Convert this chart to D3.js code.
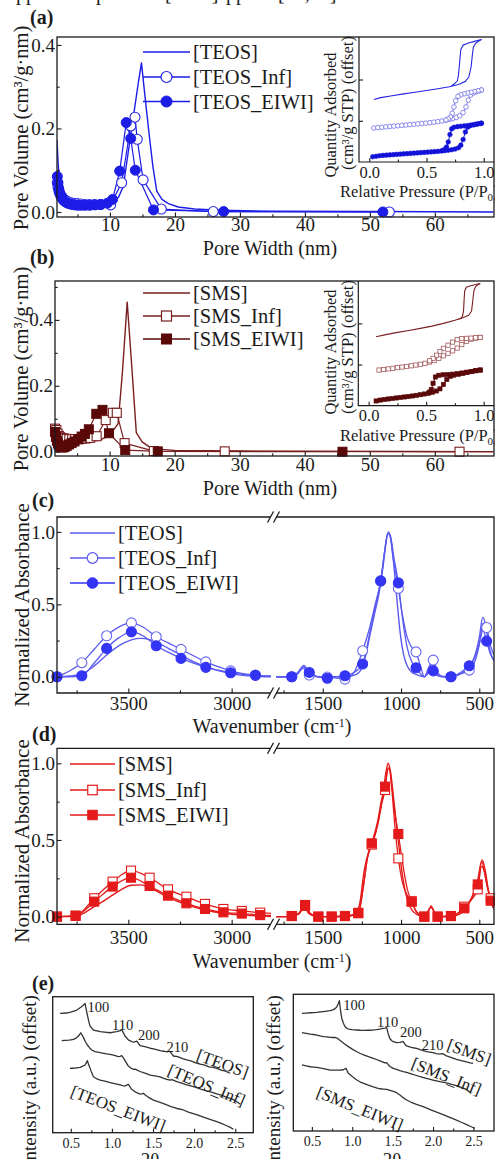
<!DOCTYPE html>
<html>
<head>
<meta charset="utf-8">
<script src="https://cdn.jsdelivr.net/npm/d3@7"></script>
<style>
  body { margin: 0; background: #fff; }
  svg { display: block; }
  text { font-family: "Liberation Serif", "Times New Roman", serif; fill: #1b1b1b; }
</style>
</head>
<body>
<svg id="fig" width="495" height="1159"></svg>
<script>
// ---------------- (a), (b) pore size distributions: [width nm, volume] ----------------
const psdTeos = [[1.85,0.172],[1.95,0.14],[2.05,0.11],[2.2,0.085],[2.4,0.066],[2.6,0.054],[2.9,0.044],[3.3,0.036],[3.8,0.03],[4.4,0.026],[5.2,0.023],[6.2,0.021],[7.3,0.02],[8.5,0.02],[9.6,0.021],[10.5,0.024],[11.3,0.035],[12.05,0.061],[13.2,0.185],[14.35,0.308],[14.85,0.357],[15.3,0.29],[16.0,0.19],[16.6,0.11],[17.2,0.05],[18,0.03],[19,0.02],[20.5,0.012],[23,0.007],[27,0.004],[35,0.002],[50,0.001],[69,0.0]];
const psdTeosInf = [[1.9,0.07],[2.0,0.06],[2.15,0.05],[2.3,0.044],[2.5,0.038],[2.7,0.034],[2.95,0.03],[3.25,0.027],[3.6,0.024],[4.0,0.022],[4.45,0.021],[4.95,0.02],[5.5,0.019],[6.1,0.018],[6.8,0.018],[7.6,0.018],[8.5,0.018],[10.1,0.017],[11.8,0.07],[13.2,0.206],[13.85,0.227],[14.2,0.174],[15.1,0.077],[17.9,0.007],[25.9,0.001],[53,0.0]];
const psdTeosEiwi = [[1.9,0.085],[2.0,0.07],[2.12,0.056],[2.25,0.046],[2.4,0.04],[2.6,0.034],[2.8,0.029],[3.05,0.025],[3.35,0.022],[3.7,0.02],[4.1,0.018],[4.55,0.017],[5.05,0.016],[5.6,0.016],[6.2,0.016],[6.9,0.016],[7.7,0.017],[8.6,0.018],[9.6,0.021],[10.4,0.03],[11.5,0.098],[12.5,0.214],[13.2,0.176],[13.9,0.1],[16.7,0.005],[27.5,0.001],[52,0.0]];
const psdSms = [[1.6,0.01],[1.9,0.01],[2.3,0.012],[2.8,0.015],[3.5,0.019],[4.5,0.024],[5.5,0.028],[6.5,0.031],[7.5,0.033],[8.5,0.035],[9.5,0.045],[10.4,0.06],[11.3,0.085],[12.0,0.25],[12.7,0.454],[13.4,0.26],[14.1,0.058],[15,0.03],[16,0.016],[17.5,0.008],[20,0.004],[30,0.002],[69,0.0]];
const psdSmsInf = [[1.6,0.07],[1.8,0.066],[2.0,0.055],[2.2,0.048],[2.4,0.044],[2.7,0.041],[3.0,0.04],[3.4,0.039],[3.8,0.038],[4.25,0.038],[4.7,0.038],[5.2,0.038],[5.7,0.039],[6.3,0.04],[7.0,0.042],[8.0,0.047],[9.4,0.096],[10.5,0.118],[11.1,0.118],[12.3,0.026],[16.8,0.002],[27.7,0.001],[63.8,0.0]];
const psdSmsEiwi = [[1.6,0.06],[1.75,0.045],[1.9,0.033],[2.05,0.025],[2.2,0.019],[2.4,0.015],[2.6,0.013],[2.85,0.013],[3.1,0.015],[3.4,0.018],[3.75,0.022],[4.15,0.026],[4.6,0.031],[5.2,0.038],[5.7,0.046],[6.2,0.054],[6.8,0.068],[7.95,0.115],[8.9,0.127],[9.9,0.056],[12.4,0.005],[17.4,0.001],[45.8,0.0]];
const namesTeos = ["[TEOS]", "[TEOS_Inf]", "[TEOS_EIWI]"];
const namesSms = ["[SMS]", "[SMS_Inf]", "[SMS_EIWI]"];
const pwTicks = [10, 20, 30, 40, 50, 60];
const pwMinor = [5, 15, 25, 35, 45, 55, 65];
const pvTicks = [0, 0.2, 0.4];
const pvMinorA = [0.1, 0.3];
const pvMinorB = [0.1, 0.3, 0.5];

// ---------------- N2 isotherms (insets): [P/P0, quantity, offset units] ----------------
const isoTeosAds = [[0.04,5.0],[0.1,5.15],[0.2,5.3],[0.3,5.45],[0.4,5.58],[0.5,5.72],[0.6,5.86],[0.7,6.02],[0.78,6.2],[0.84,6.45],[0.87,6.8],[0.89,7.6],[0.9,8.5],[0.91,9.2],[0.93,9.5],[0.96,9.7],[0.98,9.8]];
const isoTeosDes = [[0.98,9.8],[0.92,9.65],[0.86,9.5],[0.82,9.35],[0.8,9.0],[0.79,8.0],[0.78,7.0],[0.77,6.5],[0.75,6.3],[0.72,6.1]];
const isoTeosInfAds = [[0.04,2.72],[0.075,2.75],[0.11,2.78],[0.145,2.81],[0.18,2.84],[0.215,2.87],[0.25,2.9],[0.285,2.93],[0.32,2.96],[0.355,2.99],[0.39,3.02],[0.425,3.05],[0.46,3.08],[0.495,3.11],[0.53,3.15],[0.565,3.19],[0.6,3.23],[0.635,3.28],[0.67,3.34],[0.7,3.4],[0.73,3.47],[0.76,3.56],[0.79,3.7],[0.82,3.95],[0.845,4.4],[0.865,4.95],[0.885,5.35],[0.91,5.52],[0.935,5.62],[0.96,5.7],[0.98,5.76]];
const isoTeosInfDes = [[0.98,5.76],[0.95,5.7],[0.92,5.64],[0.89,5.58],[0.86,5.52],[0.83,5.46],[0.8,5.38],[0.775,5.25],[0.755,4.9],[0.74,4.4],[0.725,3.9],[0.71,3.6],[0.69,3.45],[0.67,3.36]];
const isoTeosEiwiAds = [[0.03,0.42],[0.06,0.46],[0.09,0.5],[0.12,0.53],[0.15,0.55],[0.18,0.57],[0.21,0.59],[0.24,0.61],[0.27,0.63],[0.3,0.65],[0.33,0.67],[0.36,0.69],[0.39,0.71],[0.42,0.73],[0.45,0.75],[0.48,0.77],[0.51,0.79],[0.54,0.81],[0.57,0.83],[0.6,0.85],[0.63,0.88],[0.66,0.91],[0.69,0.94],[0.72,0.98],[0.75,1.04],[0.78,1.14],[0.8,1.35],[0.82,1.8],[0.84,2.4],[0.86,2.78],[0.88,2.9],[0.91,2.97],[0.94,3.03],[0.97,3.08],[0.98,3.1]];
const isoTeosEiwiDes = [[0.98,3.1],[0.95,3.05],[0.92,3.0],[0.89,2.96],[0.86,2.92],[0.83,2.89],[0.8,2.86],[0.77,2.83],[0.74,2.78],[0.72,2.65],[0.705,2.2],[0.69,1.6],[0.675,1.2],[0.66,1.02],[0.64,0.92]];
const isoSmsAds = [[0.065,5.53],[0.15,5.7],[0.25,5.88],[0.35,6.03],[0.45,6.2],[0.55,6.38],[0.65,6.6],[0.75,6.85],[0.82,7.05],[0.87,7.25],[0.895,7.6],[0.905,8.4],[0.915,9.2],[0.93,9.55],[0.95,9.7],[0.97,9.8]];
const isoSmsDes = [[0.97,9.8],[0.92,9.7],[0.88,9.6],[0.85,9.5],[0.835,9.2],[0.83,8.5],[0.825,7.6],[0.815,7.15],[0.8,7.0],[0.78,6.95]];
const isoSmsInfAds = [[0.09,2.86],[0.13,2.9],[0.17,2.95],[0.21,3.0],[0.25,3.05],[0.29,3.1],[0.33,3.15],[0.37,3.2],[0.41,3.26],[0.45,3.32],[0.49,3.4],[0.53,3.5],[0.57,3.62],[0.61,3.8],[0.65,4.0],[0.69,4.2],[0.73,4.4],[0.77,4.62],[0.81,4.9],[0.85,5.15],[0.89,5.33],[0.93,5.42],[0.97,5.48]];
const isoSmsInfDes = [[0.97,5.48],[0.93,5.45],[0.89,5.42],[0.85,5.4],[0.81,5.38],[0.77,5.3],[0.73,5.1],[0.69,4.85],[0.65,4.6],[0.62,4.35],[0.59,4.05],[0.56,3.8],[0.53,3.6]];
const isoSmsEiwiAds = [[0.065,0.38],[0.1,0.45],[0.135,0.5],[0.17,0.54],[0.205,0.58],[0.24,0.62],[0.275,0.66],[0.31,0.7],[0.345,0.74],[0.38,0.78],[0.415,0.83],[0.45,0.88],[0.485,0.94],[0.52,1.0],[0.555,1.08],[0.59,1.18],[0.62,1.35],[0.65,1.7],[0.68,2.1],[0.71,2.35],[0.74,2.45],[0.78,2.52],[0.82,2.6],[0.86,2.68],[0.9,2.75],[0.935,2.81],[0.97,2.86]];
const isoSmsEiwiDes = [[0.97,2.86],[0.93,2.8],[0.89,2.74],[0.85,2.68],[0.81,2.62],[0.77,2.57],[0.73,2.53],[0.69,2.5],[0.65,2.48],[0.61,2.44],[0.58,2.3],[0.56,1.8],[0.545,1.3],[0.53,1.1]];
const rpTicks = [0, 0.5, 1.0];
const rpMinor = [0.25, 0.75];
const qaTicks = [3.3, 6.6];

// ---------------- (c), (d) FTIR: [wavenumber cm-1, normalized absorbance] ----------------
const ftirTeos = [[3845,0.0],[3785,0.005],[3725,0.02],[3665,0.075],[3605,0.15],[3545,0.215],[3485,0.255],[3440,0.265],[3400,0.258],[3365,0.24],[3305,0.195],[3245,0.15],[3185,0.105],[3125,0.07],[3065,0.042],[3005,0.022],[2945,0.01],[2885,0.004],[2810,0.0],
  [1805,0.0],[1750,0.0],[1698,0.003],[1660,0.025],[1620,0.078],[1590,0.03],[1550,0.003],[1471,0.0],[1400,0.0],[1330,0.004],[1280,0.02],[1250,0.06],[1225,0.15],[1200,0.28],[1170,0.43],[1140,0.58],[1115,0.76],[1095,0.93],[1080,1.0],[1065,0.95],[1045,0.76],[1025,0.52],[1005,0.3],[985,0.16],[960,0.075],[930,0.03],[900,0.015],[870,0.004],[851,0.0],[825,0.04],[800,0.09],[780,0.04],[755,0.005],[720,0.0],[681,0.0],[640,0.01],[600,0.035],[564,0.07],[530,0.14],[500,0.27],[478,0.41],[460,0.36],[440,0.22],[420,0.14],[406,0.11]];
const ftirTeosInf = [[3845,0.0],[3785,0.04],[3725,0.097],[3665,0.19],[3605,0.283],[3545,0.345],[3485,0.372],[3425,0.34],[3365,0.276],[3305,0.232],[3245,0.189],[3185,0.145],[3125,0.103],[3065,0.07],[3005,0.041],[2945,0.022],[2885,0.012],[2810,0.005],
  [1805,0.0],[1750,0.0],[1698,0.0],[1660,0.02],[1625,0.06],[1586,0.012],[1530,0.0],[1471,-0.002],[1420,-0.008],[1358,-0.016],[1300,0.03],[1245,0.18],[1200,0.34],[1165,0.5],[1130,0.66],[1105,0.86],[1085,0.99],[1070,0.97],[1050,0.82],[1017,0.61],[990,0.42],[960,0.27],[930,0.2],[904,0.172],[875,0.07],[851,0.0],[825,0.06],[794,0.115],[770,0.04],[740,0.005],[681,0.0],[620,0.02],[564,0.046],[530,0.1],[500,0.22],[476,0.37],[453,0.34],[430,0.22],[406,0.15]];
const ftirTeosEiwi = [[3845,0.0],[3785,0.0],[3725,0.007],[3665,0.095],[3605,0.196],[3545,0.27],[3485,0.31],[3425,0.28],[3365,0.214],[3305,0.168],[3245,0.127],[3185,0.094],[3125,0.065],[3065,0.045],[3005,0.028],[2945,0.017],[2885,0.01],[2810,0.004],
  [1805,0.0],[1750,0.0],[1698,0.0],[1660,0.03],[1625,0.07],[1586,0.03],[1530,0.0],[1471,-0.01],[1420,0.0],[1358,0.007],[1300,0.03],[1245,0.088],[1200,0.3],[1165,0.48],[1130,0.662],[1105,0.86],[1085,0.99],[1070,0.98],[1045,0.82],[1017,0.648],[990,0.4],[960,0.2],[930,0.1],[904,0.062],[875,0.02],[851,0.0],[820,0.03],[794,0.041],[770,0.01],[730,0.0],[681,0.0],[620,0.03],[564,0.076],[530,0.13],[500,0.23],[476,0.32],[453,0.246],[430,0.16],[406,0.12]];
const ftirMarksC = [3845,3725,3605,3485,3365,3245,3125,3005,2885,1698,1586,1471,1358,1245,1130,1017,904,794,681,564,453];

const ftirSms = [[3845,0.0],[3755,0.002],[3665,0.065],[3576,0.14],[3530,0.18],[3487,0.205],[3440,0.207],[3397,0.19],[3308,0.125],[3219,0.078],[3129,0.043],[3040,0.022],[2951,0.01],[2862,0.005],[2800,0.0],
  [1805,0.0],[1750,0.0],[1698,0.002],[1650,0.02],[1620,0.07],[1590,0.02],[1540,0.0],[1443,0.0],[1358,0.0],[1300,0.01],[1265,0.08],[1235,0.3],[1205,0.43],[1175,0.5],[1145,0.62],[1115,0.8],[1095,0.95],[1082,1.0],[1068,0.95],[1045,0.75],[1020,0.52],[995,0.3],[970,0.15],[940,0.06],[900,0.015],[851,0.0],[830,0.02],[808,0.07],[785,0.02],[766,0.0],[681,0.0],[630,0.015],[596,0.04],[550,0.12],[510,0.24],[482,0.37],[462,0.3],[440,0.16],[420,0.08],[406,0.05]];
const ftirSmsInf = [[3845,0.0],[3755,0.005],[3665,0.12],[3576,0.228],[3487,0.3],[3397,0.254],[3308,0.178],[3219,0.13],[3129,0.083],[3040,0.05],[2951,0.037],[2862,0.026],[2800,0.02],
  [1805,0.0],[1750,0.0],[1698,0.004],[1650,0.02],[1613,0.07],[1580,0.02],[1528,0.0],[1443,0.0],[1358,0.004],[1273,0.025],[1240,0.2],[1215,0.38],[1187,0.47],[1150,0.6],[1125,0.73],[1102,0.826],[1085,0.96],[1075,0.97],[1060,0.85],[1040,0.6],[1017,0.38],[990,0.22],[960,0.14],[932,0.1],[900,0.03],[851,0.0],[808,0.06],[766,0.0],[681,0.004],[640,0.02],[596,0.065],[550,0.11],[510,0.178],[485,0.33],[470,0.3],[450,0.2],[427,0.12],[406,0.06]];
const ftirSmsEiwi = [[3845,0.0],[3755,0.0065],[3665,0.098],[3576,0.196],[3487,0.254],[3397,0.2],[3308,0.137],[3219,0.087],[3129,0.05],[3040,0.028],[2951,0.02],[2862,0.01],[2800,0.008],
  [1805,0.0],[1750,0.0],[1698,0.004],[1650,0.025],[1613,0.076],[1580,0.02],[1528,0.0],[1443,0.0],[1358,0.004],[1273,0.022],[1240,0.2],[1215,0.38],[1187,0.478],[1150,0.62],[1125,0.76],[1102,0.848],[1085,0.96],[1075,0.97],[1060,0.86],[1040,0.68],[1017,0.539],[990,0.35],[960,0.18],[932,0.098],[900,0.03],[851,0.0],[808,0.06],[766,0.0],[681,0.004],[640,0.02],[596,0.054],[550,0.12],[510,0.21],[485,0.36],[468,0.3],[450,0.2],[427,0.104],[406,0.05]];
const ftirMarksD = [3845,3755,3665,3576,3487,3397,3308,3219,3129,3040,2951,2862,1698,1613,1528,1443,1358,1273,1187,1102,1017,932,851,766,681,596,510,427];

const wnTicksL = [3500, 3000];
const wnMinorL = [3750, 3250];
const wnTicksR = [1500, 1000, 500];
const wnMinorR = [1750, 1250, 750];
const absTicks = [0, 0.5, 1.0];
const absMinor = [0.25, 0.75];

// ---------------- (e) low-angle XRD: [2theta, intensity a.u. with offset] ----------------
const xrdTeos = [[0.37,87.8],[0.45,88.0],[0.51,88.8],[0.573,90.2],[0.622,92.2],[0.653,93.7],[0.674,95.1],[0.688,90.5],[0.702,86.5],[0.72,81.5],[0.735,78.4],[0.775,75.5],[0.82,74.9],[0.857,74.3],[0.91,74.0],[0.978,73.5],[1.02,73.9],[1.06,74.3],[1.09,74.8],[1.12,75.5],[1.14,73.4],[1.16,71.1],[1.2,68.2],[1.23,67.3],[1.262,66.5],[1.285,67.0],[1.303,67.4],[1.323,65.6],[1.343,64.0],[1.4,63.3],[1.465,62.1],[1.52,61.5],[1.586,60.3],[1.63,59.9],[1.668,59.4],[1.69,59.9],[1.708,59.6],[1.728,57.9],[1.748,56.4],[1.8,55.9],[1.86,54.4],[1.911,53.5],[1.96,52.8],[2.02,51.3],[2.073,50.5],[2.13,49.7],[2.18,48.4],[2.23,48.0],[2.276,47.3],[2.33,46.0],[2.38,45.2],[2.438,43.7]];
const xrdTeosInf = [[0.39,67.7],[0.43,67.9],[0.47,68.0],[0.5,68.2],[0.532,68.6],[0.565,69.6],[0.593,71.1],[0.61,72.4],[0.622,73.5],[0.636,72.0],[0.653,70.1],[0.675,67.2],[0.702,64.5],[0.73,62.3],[0.755,60.8],[0.796,59.6],[0.857,58.8],[0.9,58.3],[0.938,57.9],[0.98,57.6],[1.018,57.1],[1.05,56.5],[1.079,55.9],[1.1,56.2],[1.12,56.6],[1.14,55.0],[1.16,53.0],[1.18,51.0],[1.2,49.0],[1.23,47.6],[1.262,46.6],[1.283,46.7],[1.303,46.2],[1.343,45.0],[1.383,44.1],[1.42,43.5],[1.465,42.4],[1.52,41.8],[1.586,41.0],[1.63,40.0],[1.668,39.2],[1.708,38.6],[1.73,39.0],[1.79,37.5],[1.85,36.4],[1.911,35.1],[1.97,34.3],[2.03,33.2],[2.09,31.9],[2.154,30.7],[2.21,29.8],[2.276,28.5],[2.34,27.4],[2.398,26.0],[2.44,25.3],[2.478,24.3],[2.52,22.8],[2.56,21.1]];
const xrdTeosEiwi = [[0.49,47.3],[0.52,47.4],[0.553,47.5],[0.585,47.8],[0.613,48.1],[0.645,48.9],[0.674,49.8],[0.69,51.5],[0.702,53.0],[0.715,50.5],[0.735,47.3],[0.755,44.0],[0.775,41.2],[0.81,39.8],[0.857,38.7],[0.9,38.1],[0.938,37.5],[0.978,36.9],[1.018,36.3],[1.06,35.7],[1.1,35.1],[1.13,34.6],[1.16,34.3],[1.18,35.0],[1.2,35.5],[1.22,33.8],[1.24,31.9],[1.27,30.6],[1.303,29.4],[1.343,28.4],[1.363,28.6],[1.383,29.0],[1.41,27.6],[1.445,26.0],[1.506,24.0],[1.56,22.8],[1.62,21.6],[1.668,20.4],[1.72,19.2],[1.79,17.8],[1.87,16.7],[1.93,15.2],[2.0,13.9],[2.073,12.3],[2.14,10.9],[2.21,9.5],[2.276,8.1],[2.33,6.8],[2.39,5.3],[2.44,3.9],[2.478,2.5]];
const xrdSms = [[0.377,86.1],[0.43,86.3],[0.48,86.5],[0.52,86.6],[0.562,86.8],[0.6,87.1],[0.643,87.4],[0.685,87.7],[0.726,88.0],[0.76,88.6],[0.788,89.5],[0.809,90.9],[0.83,93.5],[0.841,95.3],[0.855,88.0],[0.87,82.5],[0.89,78.8],[0.911,76.3],[0.93,75.2],[0.952,74.6],[1.0,74.2],[1.056,73.9],[1.1,73.7],[1.15,73.6],[1.2,73.7],[1.261,73.9],[1.3,74.2],[1.343,74.6],[1.38,75.0],[1.405,75.3],[1.426,75.6],[1.446,71.0],[1.467,67.5],[1.49,66.0],[1.508,65.3],[1.549,64.6],[1.59,64.8],[1.631,65.3],[1.652,63.5],[1.673,62.2],[1.71,61.6],[1.75,60.9],[1.796,60.5],[1.84,59.5],[1.878,58.8],[1.92,58.0],[1.96,57.7],[2.0,57.3],[2.04,56.6],[2.084,56.3],[2.12,56.6],[2.167,54.9],[2.22,53.9],[2.29,52.4],[2.35,51.5],[2.414,50.5],[2.46,49.9],[2.495,49.5]];
const xrdSmsInf = [[0.377,71.9],[0.43,71.4],[0.48,70.9],[0.52,70.6],[0.562,70.2],[0.6,69.6],[0.643,69.0],[0.685,68.8],[0.726,68.5],[0.76,68.4],[0.788,68.5],[0.809,68.0],[0.84,66.8],[0.87,65.3],[0.91,63.4],[0.952,61.7],[1.0,59.9],[1.056,58.0],[1.1,56.7],[1.15,55.5],[1.2,54.4],[1.261,53.2],[1.3,52.3],[1.343,51.3],[1.38,50.4],[1.405,49.8],[1.426,50.0],[1.446,48.5],[1.467,47.2],[1.508,45.8],[1.549,45.0],[1.59,44.2],[1.631,43.5],[1.673,42.9],[1.73,41.8],[1.796,40.6],[1.86,39.5],[1.92,38.5],[2.0,37.3],[2.084,36.1],[2.167,35.2],[2.23,34.1],[2.29,33.2],[2.35,31.9],[2.414,30.5],[2.45,28.6],[2.47,27.3]];
const xrdSmsEiwi = [[0.377,48.3],[0.43,47.6],[0.48,47.0],[0.52,46.8],[0.562,46.6],[0.6,46.1],[0.643,45.6],[0.685,45.1],[0.726,44.6],[0.77,44.6],[0.809,44.6],[0.85,44.6],[0.89,44.8],[0.91,45.5],[0.923,45.8],[0.937,44.0],[0.952,42.2],[1.0,39.8],[1.056,37.3],[1.1,35.8],[1.15,34.6],[1.2,33.5],[1.261,32.3],[1.3,31.6],[1.343,30.9],[1.385,30.7],[1.426,30.5],[1.467,29.8],[1.508,29.0],[1.549,28.0],[1.59,26.3],[1.63,24.4],[1.673,22.7],[1.73,21.0],[1.796,19.5],[1.84,18.6],[1.878,17.8],[1.93,16.6],[1.98,15.3],[2.03,14.1],[2.084,12.9],[2.14,11.6],[2.19,10.4],[2.24,9.2],[2.29,8.0],[2.35,6.4],[2.41,4.9],[2.46,3.5],[2.516,2.0]];
const hklLabels = ["100", "110", "200", "210"];
const tthTicks = [0.5, 1.0, 1.5, 2.0, 2.5];
const tthMinor = [0.75, 1.25, 1.75, 2.25];

// ---------------- drawing helpers ----------------
const INK = "#1b1b1b";
const svg = d3.select("#fig");
svg.append("rect").attr("width", 495).attr("height", 1159).attr("fill", "#fff");
const defs = svg.append("defs");
function clip(id, x, y, w, h) {
  defs.append("clipPath").attr("id", id).append("rect")
    .attr("x", x).attr("y", y).attr("width", w).attr("height", h);
  return `url(#${id})`;
}
function styleAxis(a, fs) {
  a.select(".domain").remove();
  a.attr("font-family", null).attr("font-size", null).attr("color", INK);
  a.selectAll("line").attr("stroke-width", 1.1);
  a.selectAll("text").attr("font-size", fs);
}
function axisBottom(scale, y, major, minor, fmt, pad, fs, len = 4.5) {
  const a = svg.append("g").attr("transform", `translate(0,${y})`)
    .call(d3.axisBottom(scale).tickValues(major).tickSize(-len).tickPadding(pad).tickFormat(fmt));
  styleAxis(a, fs);
  if (minor && minor.length) {
    const m = svg.append("g").attr("transform", `translate(0,${y})`)
      .call(d3.axisBottom(scale).tickValues(minor).tickSize(-len * 0.6).tickFormat(() => ""));
    styleAxis(m, fs);
  }
}
function axisLeft(scale, x, major, minor, fmt, pad, fs, len = 4.5) {
  const a = svg.append("g").attr("transform", `translate(${x},0)`)
    .call(d3.axisLeft(scale).tickValues(major).tickSize(-len).tickPadding(pad).tickFormat(fmt));
  styleAxis(a, fs);
  if (minor && minor.length) {
    const m = svg.append("g").attr("transform", `translate(${x},0)`)
      .call(d3.axisLeft(scale).tickValues(minor).tickSize(-len * 0.6).tickFormat(() => ""));
    styleAxis(m, fs);
  }
}
function frame(x0, y0, x1, y1) {
  svg.append("rect").attr("x", x0).attr("y", y0).attr("width", x1 - x0).attr("height", y1 - y0)
    .attr("fill", "none").attr("stroke", INK).attr("stroke-width", 1.3);
}
function drawLine(g, data, xs, ys, color, w, curve) {
  g.append("path").datum(data)
    .attr("fill", "none").attr("stroke", color).attr("stroke-width", w)
    .attr("stroke-linejoin", "round")
    .attr("d", d3.line().x(d => xs(d[0])).y(d => ys(d[1])).curve(curve || d3.curveLinear));
}
function drawMarks(g, data, xs, ys, shape, size, color, filled, sw) {
  if (shape === "circle") {
    g.selectAll(null).data(data).join("circle")
      .attr("cx", d => xs(d[0])).attr("cy", d => ys(d[1])).attr("r", size)
      .attr("fill", filled ? color : "#fff").attr("stroke", color).attr("stroke-width", sw);
  } else {
    g.selectAll(null).data(data).join("rect")
      .attr("x", d => xs(d[0]) - size / 2).attr("y", d => ys(d[1]) - size / 2)
      .attr("width", size).attr("height", size)
      .attr("fill", filled ? color : "#fff").attr("stroke", color).attr("stroke-width", sw);
  }
}
function legend(names, styles, x0, x1, rows, tx, fs) {
  const g = svg.append("g");
  names.forEach((n, i) => {
    const s = styles[i], y = rows[i];
    g.append("line").attr("x1", x0).attr("x2", x1).attr("y1", y).attr("y2", y)
      .attr("stroke", s.color).attr("stroke-width", s.w);
    if (s.shape) drawMarks(g, [[(x0 + x1) / 2, y]], d => d, d => d, s.shape, s.size, s.color, s.filled, s.sw);
    g.append("text").attr("x", tx).attr("y", y).attr("dy", "0.35em").attr("font-size", fs).text(n);
  });
}
function yTitle(x, y, fs, build) {
  const t = svg.append("text").attr("transform", `translate(${x},${y}) rotate(-90)`)
    .attr("text-anchor", "middle").attr("font-size", fs);
  build(t);
  return t;
}
function panelLabel(x, y, s) {
  svg.append("text").attr("x", x).attr("y", y).attr("font-size", 20).attr("font-weight", "bold").text(s);
}

// running text of the page above the figure (only its lower edge is inside the frame)
const run = svg.append("text").attr("y", 0).attr("font-size", 20);
[["applied", 7], ["open", 86], ["[SMS]", 165], ["applied", 217], ["[38,39]", 278]].forEach(([w, x]) =>
  run.append("tspan").attr("x", x).text(w));

// ---------------- shared styles ----------------
const blueA = "#1c1ce6", blueAOpen = "#2a2ae6";
const brownB = "#7a1f1f", brownBDark = "#5a0808";
const blueC = "#5a5af0", blueCDark = "#3434f4";
const redD = "#e41a1a";
const grayE = "#333333";

// ================= (a) =================
panelLabel(30, 24, "(a)");
const xA = d3.scaleLinear().domain([1.85, 69.1]).range([57, 494]);
const yA = d3.scaleLinear().domain([-0.012, 0.419]).range([217, 37]);
const gA = svg.append("g").attr("clip-path", clip("clipA", 57, 37, 437, 180));
drawLine(gA, psdTeos, xA, yA, blueA, 1.4);
drawLine(gA, psdTeosInf, xA, yA, blueA, 1.2);
drawLine(gA, psdTeosEiwi, xA, yA, blueA, 1.2);
const gAm = svg.append("g");
drawMarks(gAm, psdTeosInf, xA, yA, "circle", 5, blueAOpen, false, 1.1);
drawMarks(gAm, psdTeosEiwi, xA, yA, "circle", 5, blueA, true, 1);
legend(namesTeos, [
  { color: blueA, w: 1.4 },
  { color: blueA, w: 1.3, shape: "circle", size: 5.5, filled: false, sw: 1.2 },
  { color: blueA, w: 1.3, shape: "circle", size: 5.5, filled: true, sw: 1 }
], 143, 190, [52, 77, 101.5], 193, 20.5);
axisBottom(xA, 217, pwTicks, pwMinor, d3.format("d"), 0, 19);
axisLeft(yA, 57, pvTicks, pvMinorA, d3.format(".1f"), 2, 19);
svg.append("text").attr("x", 270).attr("y", 255).attr("text-anchor", "middle").attr("font-size", 20).text("Pore Width (nm)");
yTitle(28, 128, 20.5, t => t.text("Pore Volume (cm³/g·nm)"));

// inset (a): isotherms
const xIa = d3.scaleLinear().domain([-0.09, 1.09]).range([359, 494]);
const yIa = d3.scaleLinear().domain([0, 10]).range([162, 37]);
svg.append("rect").attr("x", 359).attr("y", 37).attr("width", 135).attr("height", 125).attr("fill", "#fff");
const gIa = svg.append("g");
drawLine(gIa, isoTeosAds, xIa, yIa, "#2424e6", 1.1);
drawLine(gIa, isoTeosDes, xIa, yIa, "#2424e6", 1.1);
drawLine(gIa, isoTeosInfAds, xIa, yIa, "#6e6ee8", 0.9);
drawLine(gIa, isoTeosInfDes, xIa, yIa, "#6e6ee8", 0.9);
drawMarks(gIa, isoTeosInfAds, xIa, yIa, "circle", 2.3, "#6e6ee8", false, 0.8);
drawMarks(gIa, isoTeosInfDes, xIa, yIa, "circle", 2.3, "#6e6ee8", false, 0.8);
drawLine(gIa, isoTeosEiwiAds, xIa, yIa, "#1212d8", 1);
drawLine(gIa, isoTeosEiwiDes, xIa, yIa, "#1212d8", 1);
drawMarks(gIa, isoTeosEiwiAds, xIa, yIa, "circle", 2.3, "#1212d8", true, 0.6);
drawMarks(gIa, isoTeosEiwiDes, xIa, yIa, "circle", 2.3, "#1212d8", true, 0.6);
svg.append("path").attr("d", "M359,37V162H494").attr("fill", "none").attr("stroke", INK).attr("stroke-width", 1.2);
axisBottom(xIa, 162, rpTicks, rpMinor, d3.format(".1f"), 4, 16.5, 4);
axisLeft(yIa, 359, qaTicks, [], () => "", 2, 16.5, 4);
svg.append("text").attr("x", 340).attr("y", 197).attr("font-size", 16.5)
  .call(t => { t.append("tspan").text("Relative Pressure (P/P");
               t.append("tspan").attr("dy", 4).attr("font-size", 11).text("0");
               t.append("tspan").attr("dy", -4).text(")"); });
yTitle(336, 115, 16.5, t => t.text("Quantity Adsorbed"));
yTitle(353, 103, 16.5, t => t.text("(cm³/g STP) (offset)"));
frame(57, 37, 494, 217);

// ================= (b) =================
panelLabel(30, 264, "(b)");
const xB = d3.scaleLinear().domain([1.6, 69.1]).range([55, 494]);
const yB = d3.scaleLinear().domain([-0.013, 0.518]).range([456, 281]);
const gB = svg.append("g").attr("clip-path", clip("clipB", 55, 281, 439, 175));
drawLine(gB, psdSms, xB, yB, brownB, 1.4);
drawLine(gB, psdSmsInf, xB, yB, brownB, 1.2);
drawLine(gB, psdSmsEiwi, xB, yB, brownB, 1.2);
const gBm = svg.append("g");
drawMarks(gBm, psdSmsInf, xB, yB, "square", 9, brownB, false, 1.1);
drawMarks(gBm, psdSmsEiwi, xB, yB, "square", 9, brownBDark, true, 1);
legend(namesSms, [
  { color: brownB, w: 1.4 },
  { color: brownB, w: 1.3, shape: "square", size: 10, filled: false, sw: 1.2 },
  { color: brownBDark, w: 1.3, shape: "square", size: 10, filled: true, sw: 1 }
], 143, 190, [293, 316, 339], 193, 20.5);
axisBottom(xB, 456, pwTicks, pwMinor, d3.format("d"), 1, 19);
axisLeft(yB, 55, pvTicks, pvMinorB, d3.format(".1f"), 2, 19);
svg.append("text").attr("x", 270).attr("y", 495).attr("text-anchor", "middle").attr("font-size", 20).text("Pore Width (nm)");
yTitle(28, 369, 20.5, t => t.text("Pore Volume (cm³/g·nm)"));

// inset (b)
const xIb = d3.scaleLinear().domain([-0.09, 1.09]).range([358.3, 494]);
const yIb = d3.scaleLinear().domain([0, 10]).range([405.7, 281]);
svg.append("rect").attr("x", 358.3).attr("y", 281).attr("width", 135.7).attr("height", 124.7).attr("fill", "#fff");
const gIb = svg.append("g");
drawLine(gIb, isoSmsAds, xIb, yIb, brownB, 1.1);
drawLine(gIb, isoSmsDes, xIb, yIb, brownB, 1.1);
drawLine(gIb, isoSmsInfAds, xIb, yIb, "#a45a5a", 0.9);
drawLine(gIb, isoSmsInfDes, xIb, yIb, "#a45a5a", 0.9);
drawMarks(gIb, isoSmsInfAds, xIb, yIb, "square", 4.2, "#a45a5a", false, 0.8);
drawMarks(gIb, isoSmsInfDes, xIb, yIb, "square", 4.2, "#a45a5a", false, 0.8);
drawLine(gIb, isoSmsEiwiAds, xIb, yIb, brownBDark, 1);
drawLine(gIb, isoSmsEiwiDes, xIb, yIb, brownBDark, 1);
drawMarks(gIb, isoSmsEiwiAds, xIb, yIb, "square", 4.2, brownBDark, true, 0.6);
drawMarks(gIb, isoSmsEiwiDes, xIb, yIb, "square", 4.2, brownBDark, true, 0.6);
svg.append("path").attr("d", "M358.3,281V405.7H494").attr("fill", "none").attr("stroke", INK).attr("stroke-width", 1.2);
axisBottom(xIb, 405.7, rpTicks, rpMinor, d3.format(".1f"), 4, 16.5, 4);
axisLeft(yIb, 358.3, qaTicks, [], () => "", 2, 16.5, 4);
svg.append("text").attr("x", 340).attr("y", 441).attr("font-size", 16.5)
  .call(t => { t.append("tspan").text("Relative Pressure (P/P");
               t.append("tspan").attr("dy", 4).attr("font-size", 11).text("0");
               t.append("tspan").attr("dy", -4).text(")"); });
yTitle(336, 352, 16.5, t => t.text("Quantity Adsorbed"));
yTitle(353, 347, 16.5, t => t.text("(cm³/g STP) (offset)"));
frame(55, 281, 494, 456);

// ================= (c), (d) broken-axis FTIR panels =================
function ftirPanel(id, top, bottom, yDomain, series, marks, labelY, tickPad, titleY) {
  const xL = d3.scaleLinear().domain([3845, 2800]).range([57, 273]);
  const xR = d3.scaleLinear().domain([1805, 406]).range([275, 494]);
  const yS = d3.scaleLinear().domain(yDomain).range([bottom, top]);
  const gL = svg.append("g").attr("clip-path", clip(id + "L", 57, top, 214, bottom - top));
  const gR = svg.append("g").attr("clip-path", clip(id + "R", 276, top, 218, bottom - top));
  const gM = svg.append("g");
  series.forEach(s => {
    drawLine(gL, s.data.filter(d => d[0] > 2000), xL, yS, s.color, s.w, d3.curveMonotoneX);
    drawLine(gR, s.data.filter(d => d[0] < 2000), xR, yS, s.color, s.w, d3.curveMonotoneX);
  });
  series.forEach(s => {
    if (!s.shape) return;
    const pts = s.data.filter(d => marks.includes(d[0]));
    drawMarks(gM, pts.filter(d => d[0] > 2000), xL, yS, s.shape, s.size, s.mcolor, s.filled, 1.1);
    drawMarks(gM, pts.filter(d => d[0] < 2000), xR, yS, s.shape, s.size, s.mcolor, s.filled, 1.1);
  });
  // frame with a gap at the axis break
  svg.append("path").attr("fill", "none").attr("stroke", INK).attr("stroke-width", 1.3)
    .attr("d", `M270.5,${top}H57V${bottom}H270.5M276.5,${top}H494V${bottom}H276.5`);
  [top, bottom].forEach(y => [270.5, 276.5].forEach(cx =>
    svg.append("line").attr("x1", cx - 3).attr("y1", y + 5.5).attr("x2", cx + 3).attr("y2", y - 5.5)
      .attr("stroke", INK).attr("stroke-width", 1.3)));
  axisBottom(xL, bottom, wnTicksL, wnMinorL, d3.format("d"), tickPad, 19);
  axisBottom(xR, bottom, wnTicksR, wnMinorR, d3.format("d"), tickPad, 19);
  axisLeft(yS, 57, absTicks, absMinor, d3.format(".1f"), 2, 19);
  svg.append("text").attr("x", 272).attr("y", titleY).attr("text-anchor", "middle").attr("font-size", 20)
    .call(t => { t.append("tspan").text("Wavenumber (cm");
                 t.append("tspan").attr("dy", -6).attr("font-size", 12).text("-1");
                 t.append("tspan").attr("dy", 6).text(")"); });
  yTitle(29, labelY, 21, t => t.text("Normalized Absorbance"));
}

panelLabel(32, 507, "(c)");
ftirPanel("clipC", 517, 693, [-0.112, 1.103], [
  { data: ftirTeos, color: blueC, w: 1.4 },
  { data: ftirTeosInf, color: blueC, w: 1.3, shape: "circle", size: 5, mcolor: "#6a6af0", filled: false },
  { data: ftirTeosEiwi, color: blueC, w: 1.3, shape: "circle", size: 5, mcolor: blueCDark, filled: true }
], ftirMarksC, 605, 4, 733);
legend(namesTeos, [
  { color: blueC, w: 1.4 },
  { color: blueC, w: 1.3, shape: "circle", size: 5.3, filled: false, sw: 1.2 },
  { color: blueCDark, w: 1.3, shape: "circle", size: 5.3, filled: true, sw: 1 }
], 70, 115, [533, 558, 583], 118, 20.5);

panelLabel(32, 741, "(d)");
ftirPanel("clipD", 748.3, 924.3, [-0.05, 1.098], [
  { data: ftirSms, color: redD, w: 1.4 },
  { data: ftirSmsInf, color: redD, w: 1.3, shape: "square", size: 9, mcolor: redD, filled: false },
  { data: ftirSmsEiwi, color: redD, w: 1.3, shape: "square", size: 9, mcolor: redD, filled: true }
], ftirMarksD, 841, 6, 968);
legend(namesSms, [
  { color: redD, w: 1.4 },
  { color: redD, w: 1.3, shape: "square", size: 9.5, filled: false, sw: 1.2 },
  { color: redD, w: 1.3, shape: "square", size: 9.5, filled: true, sw: 1 }
], 70, 115, [764, 790, 815], 118, 20.5);

// ================= (e) XRD =================
panelLabel(32, 990, "(e)");
function xrdPanel(id, x0, x1, top, bottom, xDomain, traces, names, nameAnchors, hklAnchors, titleX, yTitleX) {
  const xs = d3.scaleLinear().domain(xDomain).range([x0, x1]);
  const ys = d3.scaleLinear().domain([0, 100]).range([bottom, top]);
  const g = svg.append("g").attr("clip-path", clip(id, x0, top, x1 - x0, bottom - top));
  traces.forEach(tr => drawLine(g, tr, xs, ys, grayE, 1.3));
  hklLabels.forEach((h, i) => svg.append("text").attr("x", xs(hklAnchors[i][0])).attr("y", ys(hklAnchors[i][1]))
    .attr("dy", "0.35em").attr("text-anchor", "middle").attr("font-size", 14.5).text(h));
  names.forEach((n, i) => {
    const [t, v, rot] = nameAnchors[i];
    svg.append("text").attr("transform", `translate(${xs(t)},${ys(v)}) rotate(${rot})`)
      .attr("text-anchor", "middle").attr("dy", "0.35em").attr("font-size", 17).text(n);
  });
  frame(x0, top, x1, bottom);
  axisBottom(xs, bottom, tthTicks, tthMinor, d3.format(".1f"), 5, 14, 4);
  svg.append("text").attr("x", titleX).attr("y", 1166).attr("text-anchor", "middle").attr("font-size", 19).text("2θ");
  yTitle(yTitleX, 1081, 19, t => t.text("Intensity (a.u.) (offset)"));
}
xrdPanel("clipEL", 52.7, 253.3, 996.7, 1132.7, [0.28, 2.72],
  [xrdTeos, xrdTeosInf, xrdTeosEiwi], namesTeos,
  [[2.348, 51.0, 20], [2.153, 35.1, 23], [1.078, 17.9, 21]],
  [[0.835, 92.6], [1.131, 79.2], [1.451, 71.8], [1.796, 63.2]], 150, 36);
xrdPanel("clipER", 293.3, 494, 994.3, 1131, [0.27, 2.755],
  [xrdSms, xrdSmsInf, xrdSmsEiwi], namesSms,
  [[2.449, 58.0, 20], [2.169, 40.2, 22], [1.096, 16.6, 22]],
  [[1.022, 92.2], [1.439, 80.0], [1.727, 72.2], [1.996, 62.9]], 392, 280);
</script>
</body>
</html>
